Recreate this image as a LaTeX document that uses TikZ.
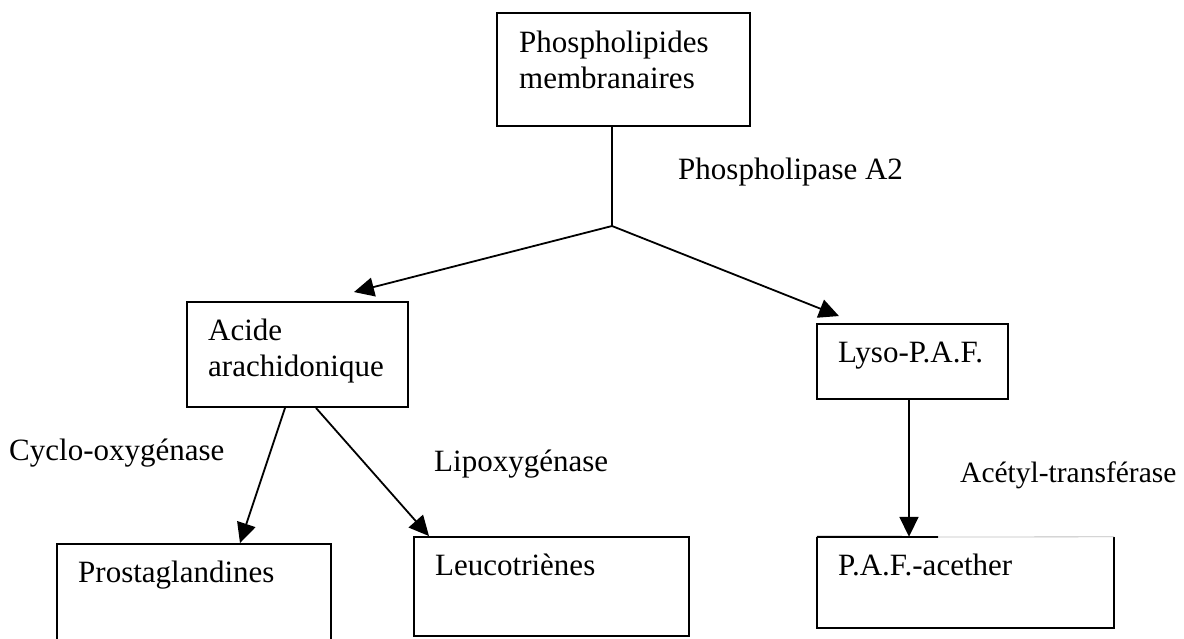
\documentclass[tikz,border=0pt]{standalone}
\usepackage{fontspec}
\setmainfont{Liberation Serif}
\usetikzlibrary{arrows.meta}
% a two-line label whose baseline is that of its first line
\newcommand\twolines[2]{\vtop{\hbox{#1}\hbox{#2}}}
\begin{document}
\begin{tikzpicture}[x=1pt,y=-1pt,
  box/.style={draw, line width=1.9pt, inner sep=0pt, rectangle},
  txt/.style={anchor=base west, inner sep=0pt, font=\fontsize{31}{36}\selectfont},
  link/.style={line width=1.8pt},
  arr/.style={link, -{Triangle[length=20pt,width=19pt]}}]
\fill[white] (0,0) rectangle (1184,638);
\useasboundingbox (0,0) rectangle (1184,638);

% boxes
\node[box, minimum width=253pt, minimum height=113pt] (top)    at (623.5,69.5) {};
\node[box, minimum width=221pt, minimum height=105pt] (acide)  at (297.5,354.5) {};
\node[box, minimum width=191pt, minimum height=75pt]  (lyso)   at (912.5,361.5) {};
\node[box, minimum width=274pt, minimum height=106pt] (prosta) at (194,597) {};
\node[box, minimum width=275pt, minimum height=99pt]  (leuco)  at (551.5,586.5) {};
\node[minimum width=297pt, minimum height=91pt, inner sep=0pt] (paf) at (965.5,582.5) {};
\draw[link, line width=1.9pt] (paf.north west) -- (paf.south west) -- (paf.south east) -- (paf.north east);
\coordinate (pafsplit) at (938,537);
\draw[link, line width=1.9pt] (paf.north west) -- (pafsplit);
\draw[line width=0.8pt, black!25] (pafsplit) -- (paf.north east);

% box texts
\node[txt] (tPhos) at (519,52)  {\twolines{Phospholipides}{membranaires}};
\node[txt] (tAcid) at (208,340) {\twolines{Acide}{arachidonique}};
\node[txt] (tLyso) at (838,362) {Lyso-P.A.F.};
\node[txt] (tPros) at (78,582)  {Prostaglandines};
\node[txt] (tLeuc) at (435,575) {Leucotriènes};
\node[txt] (tPaf)  at (838,575) {P.A.F.-acether};

% enzyme labels
\node[txt] (ePla)  at (678,179) {Phospholipase A2};
\node[txt] (eCox)  at (9,460)   {Cyclo-oxygénase};
\node[txt] (eLox)  at (434,471) {Lipoxygénase};
\node[txt, font=\fontsize{29.5}{36}\selectfont] (eAcet) at (960,482) {Acétyl-transférase};

% connectors
\coordinate (j) at (612,226);
\draw[link] (top.south -| j) -- (j);
\draw[arr] (j) -- ([xshift=56.5pt,yshift=9pt]acide.north);
\draw[arr] (j) -- ([xshift=-73.5pt,yshift=7pt]lyso.north);
\draw[arr] ([xshift=-12.5pt]acide.south) -- ([xshift=46pt]prosta.north);
\draw[arr] ([xshift=18.5pt]acide.south) -- ([xshift=-122.5pt]leuco.north);
\draw[arr] ([xshift=-3.5pt]lyso.south) -- ([xshift=-56.5pt]paf.north);
\end{tikzpicture}
\end{document}
